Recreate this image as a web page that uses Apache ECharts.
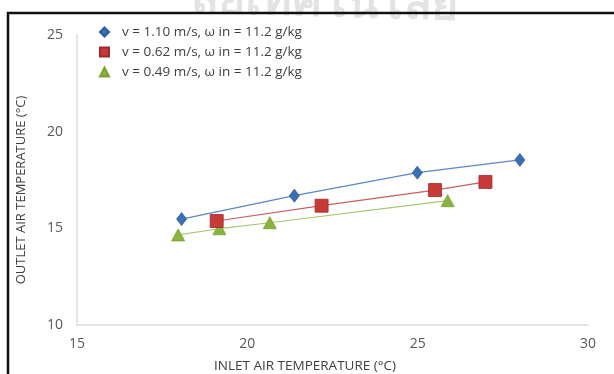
<!DOCTYPE html>
<html>
<head>
<meta charset="utf-8">
<script src="https://cdn.jsdelivr.net/npm/echarts@6/dist/echarts.min.js"></script>
<style>
html,body{margin:0;padding:0;background:#fff;}
#c{width:614px;height:374px;}
</style>
</head>
<body>
<div id="c"></div>
<script>
// Data
const seriesNames = [
  'v = 1.10 m/s, \u03c9 in = 11.2 g/kg',
  'v = 0.62 m/s, \u03c9 in = 11.2 g/kg',
  'v = 0.49 m/s, \u03c9 in = 11.2 g/kg'
];
const inletA = [18.07, 21.38, 24.99, 28.0];
const outletA = [15.48, 16.69, 17.88, 18.54];
const inletB = [19.1, 22.18, 25.51, 26.99];
const outletB = [15.38, 16.17, 16.98, 17.4];
const inletC = [17.97, 19.18, 20.66, 25.88];
const outletC = [14.66, 14.98, 15.29, 16.43];
const xTicks = [15, 20, 25, 30];
const yTicks = [10, 15, 20, 25];

const pairs = (xs, ys) => xs.map((x, i) => [x, ys[i]]);
const FONT = 'Open Sans, Liberation Sans, sans-serif';

const chart = echarts.init(document.getElementById('c'), null, {renderer: 'canvas'});

const styles = [
  {symbol: 'diamond', size: [10, 13], color: '#3b6eb4', line: '#5b86c6', border: '#2e5d9c'},
  {symbol: 'rect', size: [13, 13], color: '#c83a38', line: '#c8605e', border: '#a02a2a'},
  {symbol: 'triangle', size: [13, 12], color: '#8ab43c', line: '#a9c66e', border: '#7aa032'}
];
const datas = [pairs(inletA, outletA), pairs(inletB, outletB), pairs(inletC, outletC)];

chart.setOption({
  animation: false,
  backgroundColor: '#fff',
  grid: {left: 77, right: 26, top: 35, bottom: 49, containLabel: false},
  xAxis: {
    type: 'value', min: xTicks[0], max: xTicks[xTicks.length - 1], interval: 5,
    axisLine: {show: true, lineStyle: {color: '#dcdcdc', width: 1.5}},
    axisTick: {show: false},
    splitLine: {show: false},
    axisLabel: {color: '#595959', fontSize: 14, fontFamily: FONT, margin: 12}
  },
  yAxis: {
    type: 'value', min: yTicks[0], max: yTicks[yTicks.length - 1], interval: 5,
    axisLine: {show: true, lineStyle: {color: '#dcdcdc', width: 1.5}},
    axisTick: {show: false},
    splitLine: {show: false},
    axisLabel: {color: '#595959', fontSize: 14, fontFamily: FONT, margin: 14}
  },
  legend: {
    orient: 'vertical', left: 94, top: 20, itemWidth: 9, itemHeight: 9, itemGap: 6,
    textStyle: {color: '#404040', fontSize: 13.5, fontFamily: FONT, padding: [0, 0, 0, 8]},
    data: seriesNames.map((n, i) => ({name: n, icon: styles[i].symbol}))
  },
  series: datas.map((d, i) => ({
    name: seriesNames[i],
    type: 'line',
    data: d,
    symbol: styles[i].symbol,
    symbolSize: styles[i].size,
    showAllSymbol: true,
    itemStyle: {color: styles[i].color, borderColor: styles[i].border, borderWidth: 0.8},
    lineStyle: {color: styles[i].line, width: 1.2},
    z: 3 - i
  })),
  graphic: [
    {
      type: 'text', left: 190, top: -24, silent: true, z: 0, rotation: -0.03,
      style: {text: 'ลัยเทคโนโลยี', fill: 'rgba(0,0,0,0.11)', font: 'bold 46px "Noto Sans", sans-serif'}
    },
    {
      type: 'rect', silent: true, z: 10,
      shape: {x: 8, y: 13, width: 700, height: 500},
      style: {fill: 'none', stroke: '#111', lineWidth: 2.5}
    },
    {
      type: 'text', x: 305, y: 366, silent: true,
      style: {text: 'INLET AIR TEMPERATURE (°C)', fill: '#404040', font: '13.5px ' + FONT, align: 'center', verticalAlign: 'middle'}
    },
    {
      type: 'text', x: 21, y: 190, rotation: Math.PI / 2, silent: true,
      style: {text: 'OUTLET AIR TEMPERATURE (°C)', fill: '#404040', font: '13px ' + FONT, align: 'center', verticalAlign: 'middle'}
    }
  ]
});
</script>
</body>
</html>
